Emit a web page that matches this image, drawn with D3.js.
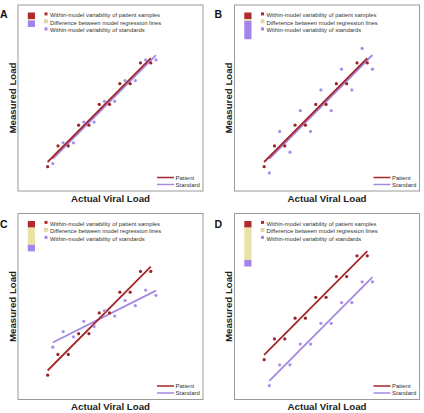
<!DOCTYPE html>
<html>
<head>
<meta charset="utf-8">
<script src="https://cdn.jsdelivr.net/npm/d3@7"></script>
<style>
  body { margin: 0; background: #fff; }
  svg { display: block; font-family: "Liberation Sans", Arial, sans-serif; }
</style>
</head>
<body>
<svg width="424" height="413"></svg>
<script>
var svg = d3.select('svg');

// x positions (actual viral load, arbitrary units)
var patientX = [3, 4, 5, 6, 7, 8, 9, 10, 11, 12, 13];
var standardX = [3.5, 4.5, 5.5, 6.5, 7.5, 8.5, 9.5, 10.5, 11.5, 12.5, 13.5];

// measured load per panel
var patientA = [1, 2, 2, 3, 3, 4, 4, 5, 5, 6, 6];
var standardA = [1.15, 2.15, 2.15, 3.15, 3.15, 4.15, 4.15, 5.15, 5.15, 6.15, 6.15];
var patientB = [1, 2, 2, 3, 3, 4, 4, 5, 5, 6, 6];
var standardB = [0.7, 2.7, 1.7, 3.7, 2.7, 4.7, 3.7, 5.7, 4.7, 6.7, 5.7];
var patientC = [1, 2, 2, 3, 3, 4, 4, 5, 5, 6, 6];
var standardC = [2.35, 3.1, 2.85, 3.6, 3.35, 4.1, 3.85, 4.6, 4.35, 5.1, 4.85];
var patientD = [1.75, 2.75, 2.75, 3.75, 3.75, 4.75, 4.75, 5.75, 5.75, 6.75, 6.75];
var standardD = [0.5, 1.5, 1.5, 2.5, 2.5, 3.5, 3.5, 4.5, 4.5, 5.5, 5.5];

// variance components shown in the stacked bar (A, B, C, D)
var varPatient = [1, 1, 1, 1];
var varDiff = [0.2, 0.25, 2.6, 4.9];
var varStandard = [1, 2.8, 1, 1];

var panelLetters = ['A', 'B', 'C', 'D'];
var legendLabels = ['Within-model variability of patient samples',
  'Difference between model regression lines',
  'Within-model variability of standards'];
var seriesLabels = ['Patient', 'Standard'];

var patientColor = '#a3282b';
var standardColor = '#a688e3';
var barColors = ['#b02a2c', '#ebe2a5', '#a384ea'];

var panels = [
  { letter: panelLetters[0], patient: patientA, standard: standardA, left: 18, top: 5 },
  { letter: panelLetters[1], patient: patientB, standard: standardB, left: 234.5, top: 5 },
  { letter: panelLetters[2], patient: patientC, standard: standardC, left: 18, top: 213.5 },
  { letter: panelLetters[3], patient: patientD, standard: standardD, left: 234.5, top: 213.5 }
];
var frameW = 185;
var frameH = 186;

function regression(xs, ys) {
  var mx = d3.mean(xs), my = d3.mean(ys);
  var sxy = 0, sxx = 0;
  for (var i = 0; i < xs.length; i++) {
    sxy += (xs[i] - mx) * (ys[i] - my);
    sxx += (xs[i] - mx) * (xs[i] - mx);
  }
  var slope = sxy / sxx;
  return { slope: slope, intercept: my - slope * mx };
}

panels.forEach(function(p, k) {
  var g = svg.append('g').attr('transform', 'translate(' + p.left + ',' + p.top + ')');
  var xScale = d3.scaleLinear().domain([0.125, 18.06]).range([0, frameW]);
  var yScale = d3.scaleLinear().domain([-0.17, 8.79]).range([frameH, 0]);

  g.append('rect')
    .attr('x', 0).attr('y', 0)
    .attr('width', frameW).attr('height', frameH)
    .attr('fill', 'none')
    .attr('stroke', '#9a9a9a')
    .attr('stroke-width', 1);

  // panel letter
  svg.append('text')
    .attr('x', p.left - 18 + (k % 2 ? -2 : 0))
    .attr('y', p.top + (k < 2 ? 13 : 14.5))
    .attr('font-size', 10.5)
    .attr('font-weight', 'bold')
    .attr('fill', '#111')
    .text(p.letter);

  // axis titles
  g.append('text')
    .attr('transform', 'translate(-2.5,' + frameH / 2 + ') rotate(-90)')
    .attr('text-anchor', 'middle')
    .attr('font-size', 9.7)
    .attr('font-weight', 'bold')
    .attr('fill', '#222')
    .text('Measured Load');
  g.append('text')
    .attr('x', frameW / 2)
    .attr('y', frameH + 10.5)
    .attr('text-anchor', 'middle')
    .attr('font-size', 9.7)
    .attr('font-weight', 'bold')
    .attr('fill', '#222')
    .text('Actual Viral Load');

  // stacked variance bar
  var comps = [varPatient[k], varDiff[k], varStandard[k]];
  var barScale = d3.scaleLinear().domain([0, 1]).range([0, 6.6]);
  var y0 = 7.5;
  comps.forEach(function(v, i) {
    g.append('rect')
      .attr('x', 9.8).attr('y', y0)
      .attr('width', 7.2).attr('height', barScale(v))
      .attr('fill', barColors[i]);
    y0 += barScale(v);
  });

  // top legend
  legendLabels.forEach(function(label, i) {
    var cy = 10 + i * 7.5;
    g.append('rect')
      .attr('x', 26.5).attr('y', cy - 2.6)
      .attr('width', 3).attr('height', 3)
      .attr('fill', barColors[i])
      .attr('stroke', i == 1 ? '#b8ad78' : 'none')
      .attr('stroke-width', 0.4);
    g.append('text')
      .attr('x', 32).attr('y', cy + 2)
      .attr('font-size', 5.9)
      .attr('fill', '#333')
      .text(label);
  });

  // regression lines
  var series = [
    { xs: standardX, ys: p.standard, color: standardColor },
    { xs: patientX, ys: p.patient, color: patientColor }
  ];
  series.forEach(function(s) {
    var fit = regression(s.xs, s.ys);
    var x1 = d3.min(s.xs), x2 = d3.max(s.xs);
    g.append('line')
      .attr('x1', xScale(x1)).attr('y1', yScale(fit.intercept + fit.slope * x1))
      .attr('x2', xScale(x2)).attr('y2', yScale(fit.intercept + fit.slope * x2))
      .attr('stroke', s.color)
      .attr('stroke-width', 1.8);
  });

  // points
  g.selectAll('.std')
    .data(p.standard)
    .enter()
    .append('circle')
    .attr('cx', function(d, i) { return xScale(standardX[i]); })
    .attr('cy', function(d) { return yScale(d); })
    .attr('r', 1.6)
    .attr('fill', '#a98ee9');
  g.selectAll('.pat')
    .data(p.patient)
    .enter()
    .append('circle')
    .attr('cx', function(d, i) { return xScale(patientX[i]); })
    .attr('cy', function(d) { return yScale(d); })
    .attr('r', 1.6)
    .attr('fill', '#9c2428');

  // bottom-right series legend
  [patientColor, standardColor].forEach(function(c, i) {
    var cy = frameH - 13.5 + i * 7;
    g.append('line')
      .attr('x1', frameW - 46).attr('x2', frameW - 29)
      .attr('y1', cy).attr('y2', cy)
      .attr('stroke', c)
      .attr('stroke-width', 1.5);
    g.append('text')
      .attr('x', frameW - 27.5).attr('y', cy + 2)
      .attr('font-size', 6)
      .attr('fill', '#333')
      .text(seriesLabels[i]);
  });
});
</script>
</body>
</html>
